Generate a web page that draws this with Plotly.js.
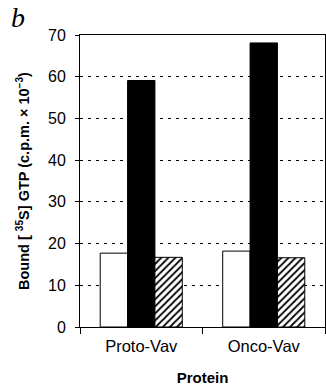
<!DOCTYPE html>
<html><head><meta charset="utf-8">
<script src="https://cdn.plot.ly/plotly-3.0.1.min.js"></script>
<style>html,body{margin:0;padding:0;background:#fff;}#chart{width:326px;height:388px;}</style>
</head><body><div id="chart"></div>
<script>
const categories = ["Proto-Vav", "Onco-Vav"];
const whiteValues = [17.7, 18.2];
const blackValues = [59.1, 68.1];
const hatchedValues = [16.7, 16.6];
const yTicks = [0, 10, 20, 30, 40, 50, 60, 70];

const font = "Liberation Sans, Arial, sans-serif";
const data = [
  {type: "bar", x: categories, y: whiteValues, name: "white",
   marker: {color: "#ffffff", line: {color: "#000", width: 1}}},
  {type: "bar", x: categories, y: blackValues, name: "black",
   marker: {color: "#000000", line: {color: "#000", width: 1}}},
  {type: "bar", x: categories, y: hatchedValues, name: "hatched",
   marker: {color: "#ffffff", line: {color: "#000", width: 1},
            pattern: {shape: "/", fgcolor: "#000", bgcolor: "#fff", size: 5, solidity: 0.35}}}
];
const layout = {
  width: 326, height: 388,
  margin: {l: 80, r: 1, t: 35, b: 61},
  paper_bgcolor: "#fff", plot_bgcolor: "#fff",
  showlegend: false,
  barmode: "group", bargap: 0.33, bargroupgap: 0,
  font: {family: font, color: "#000", size: 15},
  xaxis: {
    type: "category", range: [-0.5, 1.5],
    showline: true, linecolor: "#000", linewidth: 1, mirror: true,
    ticks: "outside", ticklen: 6, tickcolor: "#000", tickson: "boundaries",
    showgrid: false, zeroline: false,
    ticklabelstandoff: 4,
    tickfont: {size: 16.5, family: font},
    title: {text: "<b>Protein</b>", font: {size: 15, family: font}, standoff: 18}
  },
  yaxis: {
    range: [0, 70], tickvals: yTicks, ticktext: yTicks.map(String),
    showline: true, linecolor: "#000", linewidth: 1, mirror: true,
    ticks: "outside", ticklen: 4, tickcolor: "#000",
    showgrid: true, gridcolor: "#000", gridwidth: 1, griddash: "3px,5px",
    zeroline: false,
    ticklabelstandoff: 6,
    tickfont: {size: 16, family: font},
    title: {text: "<b>Bound [ <sup>35</sup>S] GTP (c.p.m. × 10<sup>−3</sup>)</b>",
            font: {size: 14.5, family: font}, standoff: 14}
  },
  annotations: [{
    text: "<i>b</i>", xref: "paper", yref: "paper", x: -0.29, y: 1.06,
    xanchor: "left", yanchor: "middle", showarrow: false,
    font: {family: "Liberation Serif, serif", size: 28, color: "#000"}
  }]
};
Plotly.newPlot("chart", data, layout, {displayModeBar: false, staticPlot: true});
</script></body></html>
